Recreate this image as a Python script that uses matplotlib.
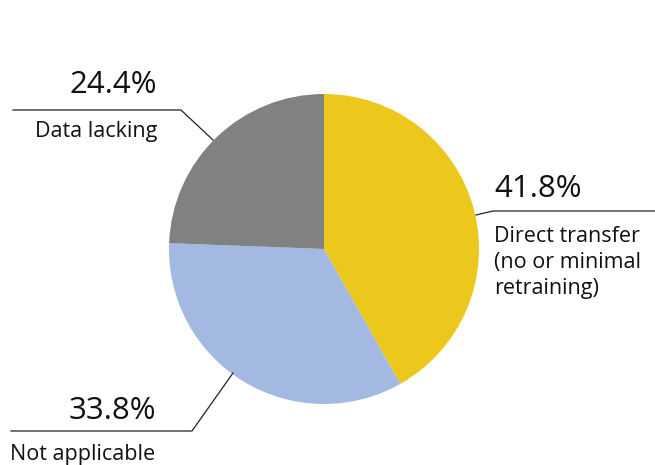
import matplotlib
matplotlib.use("Agg")
import matplotlib.pyplot as plt

categories = ["Direct transfer\n(no or minimal\nretraining)", "Not applicable", "Data lacking"]
values = [41.8, 33.8, 24.4]
pct_labels = ["41.8%", "33.8%", "24.4%"]
colors = ["#EBC81B", "#A3B9E1", "#808183"]

W, H = 655, 465
fig = plt.figure(figsize=(W / 100, H / 100), dpi=100)
ax = fig.add_axes([0, 0, 1, 1])

cx, cy, r = 324, H - 249, 155
ax.pie(values, colors=colors, startangle=90, counterclock=False,
       center=(cx, cy), radius=r, frame=True,
       wedgeprops=dict(linewidth=0))
ax.set_xlim(0, W)
ax.set_ylim(0, H)
ax.set_aspect("equal")
ax.axis("off")

font = "Open Sans"
lc = "#222222"
lw = 0.9
tc = "#111111"
ps = 22.5
ls = 15.5
# Direct transfer
ax.plot([476, 493, 655], [H - 215, H - 211, H - 211], color=lc, lw=lw)
ax.text(494, H - 197, pct_labels[0], fontsize=ps, family=font, ha="left", va="baseline", color=tc)
ax.text(494, H - 245, categories[0], fontsize=ls, family=font, ha="left", va="baseline",
        linespacing=1.3, color=tc)
ax.texts[-1].set_va("top")
ax.texts[-1].set_y(H - 226)
# Not applicable
ax.plot([11, 192, 233], [H - 431, H - 431, H - 373], color=lc, lw=lw)
ax.text(156, H - 419, pct_labels[1], fontsize=ps, family=font, ha="right", va="baseline", color=tc)
ax.text(10, H - 460, categories[1], fontsize=ls, family=font, ha="left", va="baseline", color=tc)
# Data lacking
ax.plot([13, 181, 213], [H - 110, H - 110, H - 140], color=lc, lw=lw)
ax.text(157, H - 93, pct_labels[2], fontsize=ps, family=font, ha="right", va="baseline", color=tc)
ax.text(157, H - 137, categories[2], fontsize=ls, family=font, ha="right", va="baseline", color=tc)

fig.savefig("out.png", dpi=100, facecolor="white")
